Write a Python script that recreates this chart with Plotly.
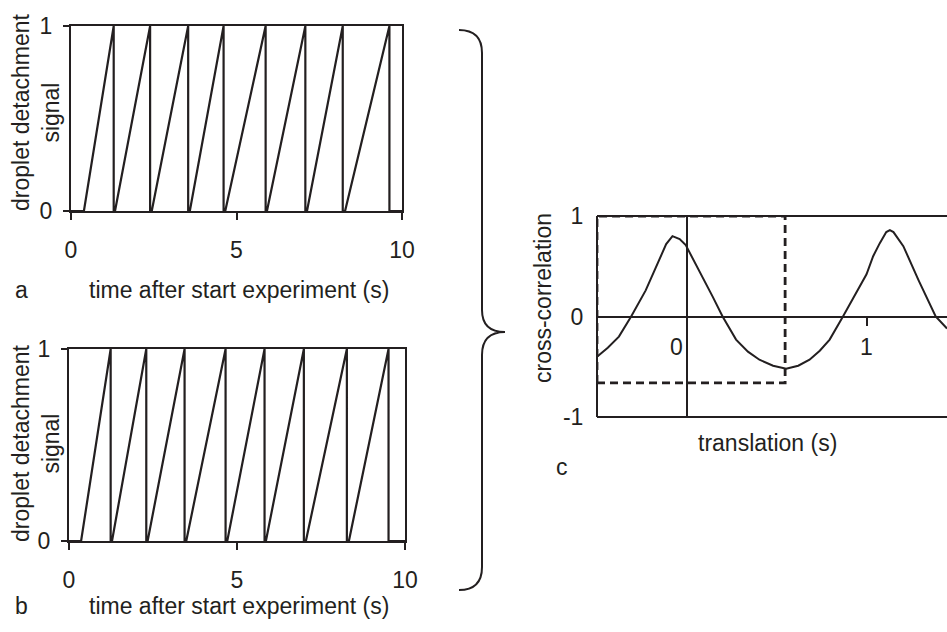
import plotly.graph_objects as go

# ---------------- data ----------------
# panel a: sawtooth droplet detachment signal (ramp start / ramp end times, s)
a_ramp_start = [0.39, 1.33, 2.44, 3.59, 4.66, 5.92, 7.13, 8.28]
a_ramp_end = [1.29, 2.39, 3.54, 4.61, 5.88, 7.08, 8.21, 9.62]
# panel b
b_ramp_start = [0.36, 1.28, 2.34, 3.49, 4.71, 5.86, 7.05, 8.33]
b_ramp_end = [1.24, 2.30, 3.44, 4.66, 5.82, 6.99, 8.27, 9.51]

time_ticks = [0, 5, 10]
signal_ticks = [0, 1]

# panel c: cross-correlation vs translation
cc_x = [-0.5, -0.44, -0.378, -0.31, -0.229, -0.155, -0.115, -0.08, -0.04, -0.006,
        0.069, 0.143, 0.199, 0.274, 0.34, 0.404, 0.48, 0.553, 0.62, 0.683, 0.74,
        0.795, 0.869, 0.963, 1.0, 1.037, 1.074, 1.11, 1.13, 1.15, 1.205, 1.29,
        1.338, 1.385, 1.448]
cc_y = [-0.40, -0.31, -0.20, 0.0, 0.26, 0.56, 0.72, 0.80, 0.77, 0.71,
        0.46, 0.20, 0.0, -0.23, -0.35, -0.43, -0.49, -0.52, -0.49, -0.43, -0.34,
        -0.23, 0.0, 0.30, 0.42, 0.60, 0.73, 0.84, 0.86, 0.84, 0.70, 0.36,
        0.18, 0.0, -0.12]
cc_xticks = [0, 1]
cc_yticks = [-1, 0, 1]
cc_ytick_text = ["-1", "0", "1"]
cc_box_x = [-0.5, 0.547]
cc_box_y = [-0.66, 1.0]

# ---------------- helpers ----------------
W, H = 947, 632
INK = "#231f20"
FONT = "Liberation Sans, Arial, sans-serif"
FS = 23


def sawtooth(starts, ends, tmax=10):
    xs, ys = [0], [0]
    for s, e in zip(starts, ends):
        xs += [s, e, e]
        ys += [0, 1, 0]
    xs.append(tmax)
    ys.append(0)
    return xs, ys


def px(x):
    return x / W


def py(y):
    return 1 - y / H


fig = go.Figure()

ax, ay = sawtooth(a_ramp_start, a_ramp_end)
bx, by = sawtooth(b_ramp_start, b_ramp_end)
fig.add_trace(go.Scatter(x=ax, y=ay, mode="lines", line=dict(color=INK, width=2.2),
                         xaxis="x", yaxis="y", showlegend=False, cliponaxis=False))
fig.add_trace(go.Scatter(x=bx, y=by, mode="lines", line=dict(color=INK, width=2.2),
                         xaxis="x2", yaxis="y2", showlegend=False, cliponaxis=False))
fig.add_trace(go.Scatter(x=cc_x, y=cc_y, mode="lines", line=dict(color=INK, width=2),
                         xaxis="x3", yaxis="y3", showlegend=False))

time_axis = dict(range=[0, 10], tickvals=time_ticks, ticks="outside", ticklen=7,
                 tickwidth=1.5, tickcolor=INK, showline=True, linecolor=INK,
                 linewidth=2, mirror=True, showgrid=False, zeroline=False,
                 automargin=False,
                 tickfont=dict(size=FS, color=INK, family=FONT), ticklabelstandoff=10)
sig_axis = dict(range=[0, 1], tickvals=signal_ticks, ticks="outside", ticklen=6,
                tickwidth=1.5, tickcolor=INK, showline=True, linecolor=INK,
                linewidth=2, mirror=True, showgrid=False, zeroline=False,
                automargin=False,
                tickfont=dict(size=FS, color=INK, family=FONT), ticklabelstandoff=6)

y0_frac = (1 - 417 / H + 1 - 216 / H) / 2

fig.update_layout(
    width=W, height=H,
    margin=dict(l=0, r=0, t=0, b=0, autoexpand=False),
    paper_bgcolor="white", plot_bgcolor="white",
    font=dict(family=FONT, size=FS, color=INK),
    xaxis=dict(domain=[px(71), px(402)], anchor="y", **time_axis),
    yaxis=dict(domain=[py(211), py(26)], anchor="x", **sig_axis),
    xaxis2=dict(domain=[px(69), px(405)], anchor="y2", **time_axis),
    yaxis2=dict(domain=[py(541), py(349)], anchor="x2", **sig_axis),
    xaxis3=dict(domain=[px(597), 1.0], range=[-0.5, 1.448], anchor="free",
                position=y0_frac, tickvals=cc_xticks, ticks="outside", ticklen=9,
                tickwidth=1.5, tickcolor=INK, showline=True, linecolor=INK,
                linewidth=1.5, showgrid=False, zeroline=True, zerolinecolor=INK,
                zerolinewidth=1.5, showticklabels=False, automargin=False),
    yaxis3=dict(domain=[py(417), py(216)], range=[-1, 1], anchor="free",
                position=px(597), tickvals=cc_yticks, ticktext=cc_ytick_text,
                ticks="", showline=True,
                linecolor=INK, linewidth=2, showgrid=False, zeroline=False,
                automargin=False,
                tickfont=dict(size=FS, color=INK, family=FONT), ticklabelstandoff=8),
)

# panel c frame (top and bottom) and dashed box
for yv in [0, 1]:
    fig.add_shape(type="line", xref="x3 domain", yref="y3 domain", x0=0, x1=1,
                  y0=yv, y1=yv, line=dict(color=INK, width=2))
fig.add_shape(type="rect", xref="x3", yref="y3", x0=cc_box_x[0], x1=cc_box_x[1],
              y0=cc_box_y[0], y1=cc_box_y[1],
              line=dict(color=INK, width=2.8, dash="8px,5px"))

# curly brace
pts = "M {},{} Q {},{} {},{} L {},{} Q {},{} {},{} Q {},{} {},{} L {},{} Q {},{} {},{}".format(
    px(459), py(30), px(482), py(30), px(482), py(53),
    px(482), py(310),
    px(482), py(332), px(505), py(332),
    px(482), py(332), px(482), py(355),
    px(482), py(567),
    px(482), py(590), px(459), py(590))
fig.add_shape(type="path", xref="paper", yref="paper", path=pts,
              line=dict(color=INK, width=2))


def note(text, x, y, angle=0, xref="paper", xshift=0):
    fig.add_annotation(text=text, x=x if xref != "paper" else px(x), y=py(y),
                       xref=xref, yref="paper", showarrow=False, textangle=angle,
                       xanchor="center", yanchor="middle", xshift=xshift,
                       font=dict(size=FS, color=INK, family=FONT))


note("time after start experiment (s)", 239, 290)
note("time after start experiment (s)", 239, 606)
note("translation (s)", 767, 443)
note("droplet detachment<br>signal", 36, 112, angle=-90)
note("droplet detachment<br>signal", 36, 443, angle=-90)
note("cross-correlation", 543, 298, angle=-90)
note("a", 21, 290)
note("b", 21, 606)
note("c", 562, 467)
for v in cc_xticks:
    note(str(v), v, 347, xref="x3", xshift=-10 if v == 0 else 0)

fig.write_html(
    "out.html",
    config={"displayModeBar": False},
    post_script="document.body.style.margin='0px';document.body.style.overflow='hidden';",
)
